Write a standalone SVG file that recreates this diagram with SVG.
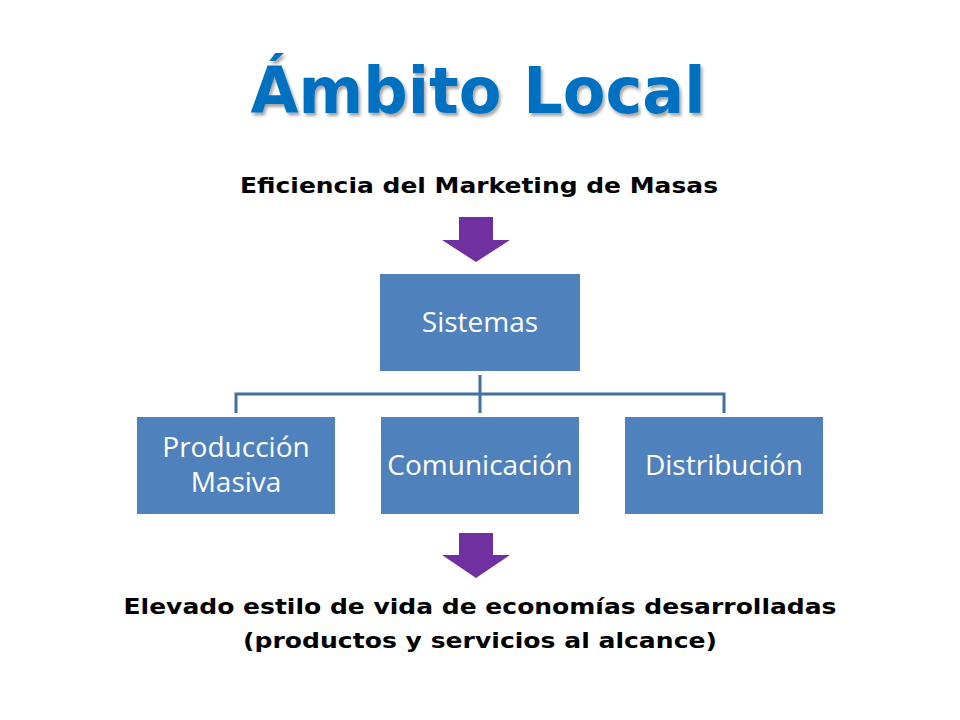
<svg xmlns="http://www.w3.org/2000/svg" width="960" height="720" viewBox="0 0 960 720">
<defs>
<style>
.box{fill:#4f81bd}
.bt{font-family:"Open Sans","Liberation Sans",sans-serif;font-size:28px;fill:#fff;text-anchor:middle}
.tx{font-family:"DejaVu Sans","Liberation Sans",sans-serif;font-weight:bold;font-size:22px;fill:#000;text-anchor:middle}
.arr{fill:#7030a0}
.con{stroke:#41719c;stroke-width:3;fill:none}
</style>
<filter id="sh" x="-5%" y="-5%" width="110%" height="120%"><feDropShadow dx="2" dy="3" stdDeviation="1.5" flood-color="#000" flood-opacity="0.35"/></filter>
</defs>
<rect width="960" height="720" fill="#fff"/>
<text x="478" y="113" text-anchor="middle" font-family="DejaVu Sans, Liberation Sans, sans-serif" font-weight="bold" font-size="64" fill="#0070c0" filter="url(#sh)" textLength="455" lengthAdjust="spacingAndGlyphs">Ámbito Local</text>
<text class="tx" x="479" y="193" textLength="478" lengthAdjust="spacingAndGlyphs">Eficiencia del Marketing de Masas</text>
<polygon class="arr" points="459,217 493,217 493,240 510,240 476,262 442,240 459,240"/>
<g id="connectors">
<path class="con" d="M480,375 V413 M236,413 V394 H724 V413"/>
</g>
<g id="sistemas"><rect class="box" x="380" y="274" width="200" height="97"/><text class="bt" x="480" y="332">Sistemas</text></g>
<g id="produccion"><rect class="box" x="137" y="417" width="198" height="97"/><text class="bt" x="236" y="457">Producción</text><text class="bt" x="236" y="492">Masiva</text></g>
<g id="comunicacion"><rect class="box" x="381" y="417" width="198" height="97"/><text class="bt" x="480" y="475">Comunicación</text></g>
<g id="distribucion"><rect class="box" x="625" y="417" width="198" height="97"/><text class="bt" x="724" y="475">Distribución</text></g>
<polygon class="arr" points="459,533 493,533 493,555 510,555 476,578 442,555 459,555"/>
<text class="tx" x="480" y="614" textLength="713" lengthAdjust="spacingAndGlyphs">Elevado estilo de vida de economías desarrolladas</text>
<text class="tx" x="480" y="648" textLength="474" lengthAdjust="spacingAndGlyphs">(productos y servicios al alcance)</text>
</svg>
